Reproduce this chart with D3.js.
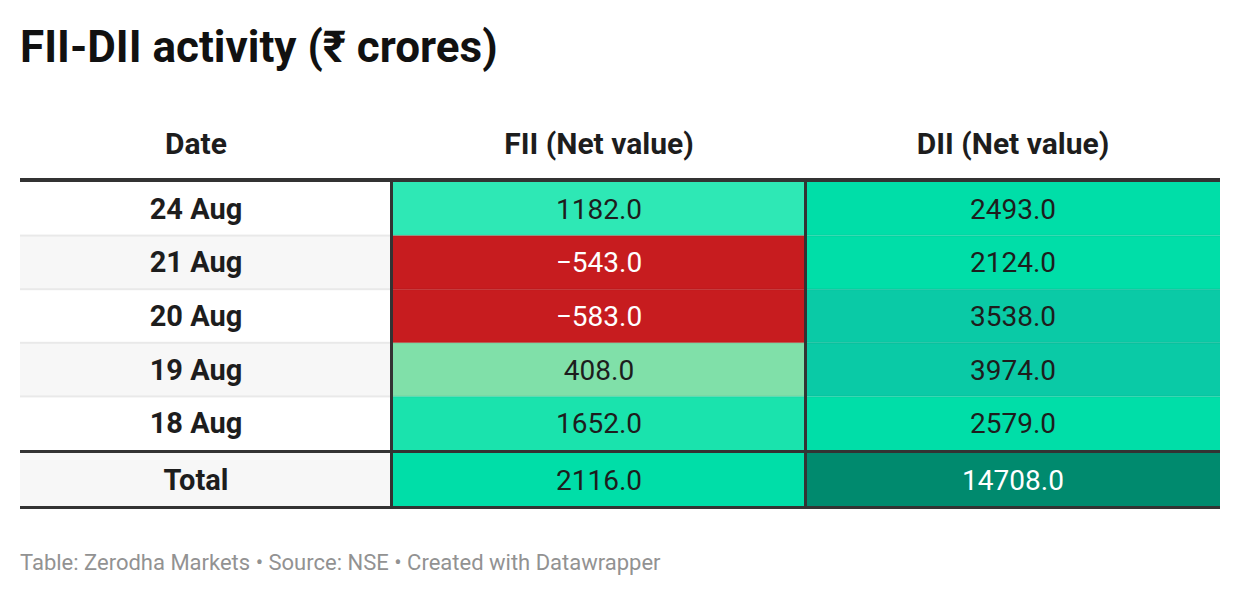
<!DOCTYPE html>
<html>
<head>
<meta charset="utf-8">
<script src="https://cdn.jsdelivr.net/npm/d3@7"></script>
<style>
  body { margin: 0; background: #fff; font-family: Roboto, "Noto Sans", sans-serif; }
</style>
</head>
<body>
<div id="chart"></div>
<script>
// data
var dates = ['24 Aug', '21 Aug', '20 Aug', '19 Aug', '18 Aug'];
var fii = [1182.0, -543.0, -583.0, 408.0, 1652.0];
var dii = [2493.0, 2124.0, 3538.0, 3974.0, 2579.0];
var totalLabel = 'Total';
var fiiTotal = 2116.0;
var diiTotal = 14708.0;
var headers = ['Date', 'FII (Net value)', 'DII (Net value)'];
var title = 'FII-DII activity (\u20b9 crores)';
var footer = 'Table: Zerodha Markets \u2022 Source: NSE \u2022 Created with Datawrapper';

var width = 1240, height = 596;
var svg = d3.select('#chart').append('svg')
  .attr('width', width)
  .attr('height', height);

// column edges
var colX = [20, 392, 806, 1220];
var textX = [196, (colX[1] + colX[2]) / 2, (colX[2] + colX[3]) / 2];

var y = d3.scaleBand().domain(dates).range([182, 450]);
var totalTop = 453, totalBottom = 506;

// colour steps
var color = d3.scaleThreshold()
  .domain([0, 1000, 1500, 2000, 3000, 10000])
  .range(['#c71c1f', '#80e0a9', '#2ee8b5', '#1ae3ad', '#00dea8', '#0acaa6', '#008a6e']);
var textColor = function(v) { return (v < 0 || v >= 10000) ? '#fff' : '#1d1d1d'; };
var fmt = d3.format('.1f');

// title
svg.append('text')
  .attr('x', 20).attr('y', 62)
  .style('font-size', '44px').style('font-weight', 700)
  .attr('fill', '#111')
  .text(title);

// header
svg.selectAll('.head').data(headers).enter().append('text')
  .attr('x', function(d, i) { return textX[i]; })
  .attr('y', 154)
  .attr('text-anchor', 'middle')
  .style('font-size', '30px').style('font-weight', 700)
  .attr('fill', '#1d1d1d')
  .text(function(d) { return d; });

// date column rows
var rows = svg.selectAll('.row').data(dates).enter().append('g');
rows.append('rect')
  .attr('x', colX[0]).attr('width', colX[1] - colX[0])
  .attr('y', function(d) { return y(d); })
  .attr('height', y.bandwidth())
  .attr('fill', function(d, i) { return i % 2 ? '#f7f7f7' : '#fff'; });

function cells(vals, c) {
  svg.selectAll('.c' + c).data(vals).enter().append('rect')
    .attr('x', colX[c]).attr('width', colX[c + 1] - colX[c])
    .attr('y', function(d, i) { return y(dates[i]); })
    .attr('height', y.bandwidth())
    .attr('fill', function(d) { return color(d); });
  svg.selectAll('.t' + c).data(vals).enter().append('text')
    .attr('x', textX[c])
    .attr('y', function(d, i) { return y(dates[i]) + y.bandwidth() / 2 + 10; })
    .attr('text-anchor', 'middle')
    .style('font-size', '28px')
    .attr('fill', function(d) { return textColor(d); })
    .text(function(d) { return fmt(d).replace('-', '\u2212'); });
}
cells(fii, 1);
cells(dii, 2);

// row separators
svg.selectAll('.sep').data(dates.slice(1)).enter().append('rect')
  .attr('x', colX[0]).attr('width', colX[1] - colX[0])
  .attr('y', function(d) { return y(d) - 1; })
  .attr('height', 2)
  .attr('fill', '#e9e9e9');
svg.selectAll('.sep2').data(dates.slice(1)).enter().append('rect')
  .attr('x', colX[1]).attr('width', colX[3] - colX[1])
  .attr('y', function(d) { return y(d) - 1; })
  .attr('height', 2)
  .attr('fill', 'rgba(0,0,0,0.05)');

// total row
svg.append('rect')
  .attr('x', colX[0]).attr('width', colX[1] - colX[0])
  .attr('y', totalTop).attr('height', totalBottom - totalTop)
  .attr('fill', '#f7f7f7');
[fiiTotal, diiTotal].forEach(function(v, k) {
  svg.append('rect')
    .attr('x', colX[k + 1]).attr('width', colX[k + 2] - colX[k + 1])
    .attr('y', totalTop).attr('height', totalBottom - totalTop)
    .attr('fill', color(v));
});
svg.append('text')
  .attr('x', textX[0]).attr('y', (totalTop + totalBottom) / 2 + 10)
  .attr('text-anchor', 'middle')
  .style('font-size', '29px').style('font-weight', 700)
  .attr('fill', '#1d1d1d')
  .text(totalLabel);
[fiiTotal, diiTotal].forEach(function(v, k) {
  svg.append('text')
    .attr('x', textX[k + 1]).attr('y', (totalTop + totalBottom) / 2 + 10)
    .attr('text-anchor', 'middle')
    .style('font-size', '28px')
    .attr('fill', textColor(v))
    .text(fmt(v));
});

// date labels
rows.append('text')
  .attr('x', textX[0])
  .attr('y', function(d) { return y(d) + y.bandwidth() / 2 + 10; })
  .attr('text-anchor', 'middle')
  .style('font-size', '29px').style('font-weight', 700)
  .attr('fill', '#1d1d1d')
  .text(function(d) { return d; });

// heavy rules
var rule = '#333';
svg.append('rect').attr('x', 20).attr('width', 1200).attr('y', 178).attr('height', 4).attr('fill', rule);
svg.append('rect').attr('x', 20).attr('width', 1200).attr('y', 450).attr('height', 3).attr('fill', rule);
svg.append('rect').attr('x', 20).attr('width', 1200).attr('y', 506).attr('height', 3).attr('fill', rule);
svg.append('rect').attr('x', 390).attr('width', 3).attr('y', 178).attr('height', 331).attr('fill', rule);
svg.append('rect').attr('x', 804).attr('width', 3).attr('y', 178).attr('height', 331).attr('fill', rule);

// footer
svg.append('text')
  .attr('x', 20).attr('y', 570)
  .style('font-size', '22px')
  .attr('fill', '#929292')
  .text(footer);
</script>
</body>
</html>
